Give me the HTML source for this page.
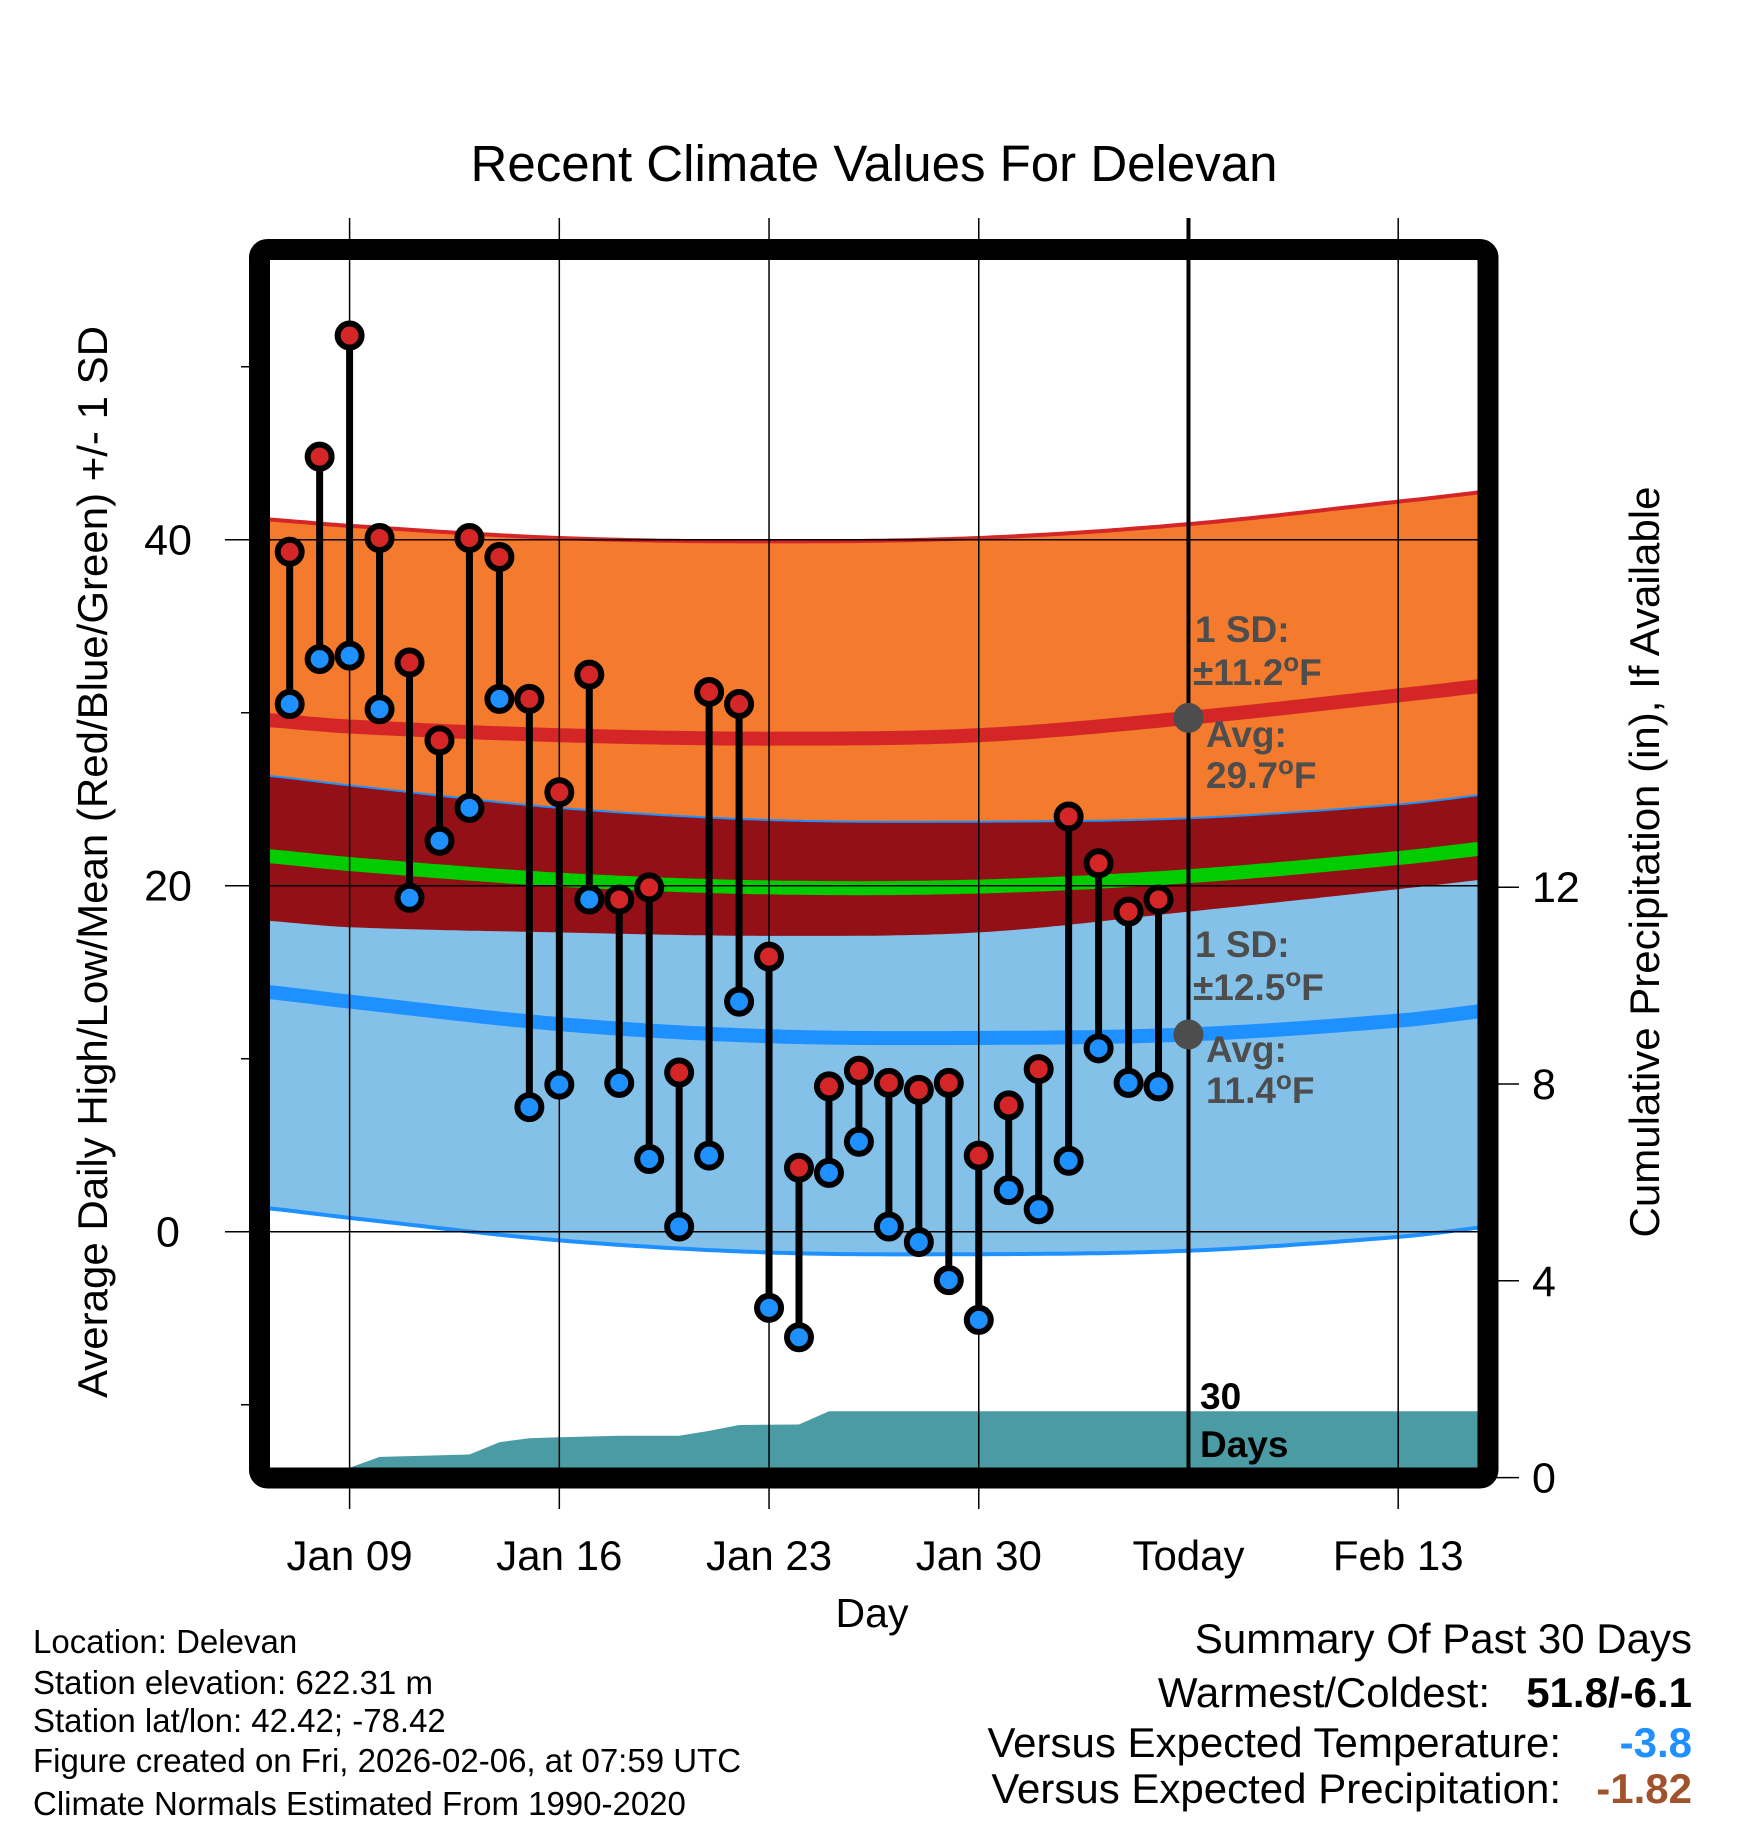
<!DOCTYPE html>
<html><head><meta charset="utf-8">
<style>
html,body{margin:0;padding:0;background:#fff;}
svg{display:block;font-family:"Liberation Sans",sans-serif;}
</style></head>
<body>
<svg id="chart" width="1748" height="1828" viewBox="0 0 1748 1828" xmlns="http://www.w3.org/2000/svg">
<defs><clipPath id="plotclip"><rect x="270" y="260" width="1208" height="1208"/></clipPath></defs>
<g id="bands" clip-path="url(#plotclip)"></g>
<g id="grid"></g>
<g id="marks"></g>
<rect x="259.5" y="249.5" width="1228.5" height="1228.5" rx="8" fill="none" stroke="#000" stroke-width="21"/>
<g id="labels"></g>
<text x="874" y="181" font-size="51" text-anchor="middle">Recent Climate Values For Delevan</text>
<text transform="translate(107,862) rotate(-90)" font-size="42" text-anchor="middle">Average Daily High/Low/Mean (Red/Blue/Green) +/- 1 SD</text>
<text transform="translate(1659,862) rotate(-90)" font-size="42" text-anchor="middle">Cumulative Precipitation (in), If Available</text>
<text x="872" y="1627" font-size="41" text-anchor="middle">Day</text>
<g font-size="37" font-weight="bold" fill="#4d4d4d">
<text x="1195" y="642">1 SD:</text>
<text x="1193" y="685">±11.2<tspan font-size="26" dy="-14">o</tspan><tspan dy="14">F</tspan></text>
<text x="1206" y="747">Avg:</text>
<text x="1206" y="788">29.7<tspan font-size="26" dy="-14">o</tspan><tspan dy="14">F</tspan></text>
</g>
<g font-size="37" font-weight="bold" fill="#4d4d4d">
<text x="1195" y="957">1 SD:</text>
<text x="1193" y="1000">±12.5<tspan font-size="26" dy="-14">o</tspan><tspan dy="14">F</tspan></text>
<text x="1206" y="1062">Avg:</text>
<text x="1206" y="1103">11.4<tspan font-size="26" dy="-14">o</tspan><tspan dy="14">F</tspan></text>
</g>
<g font-size="37" font-weight="bold" fill="#000">
<text x="1200" y="1409">30</text>
<text x="1200" y="1457">Days</text>
</g>
<g font-size="33" fill="#000">
<text x="33" y="1653">Location: Delevan</text>
<text x="33" y="1694">Station elevation: 622.31 m</text>
<text x="33" y="1732">Station lat/lon: 42.42; -78.42</text>
<text x="33" y="1772">Figure created on Fri, 2026-02-06, at 07:59 UTC</text>
<text x="33" y="1815">Climate Normals Estimated From 1990-2020</text>
</g>
<g font-size="42" fill="#000">
<text x="1692" y="1653" text-anchor="end">Summary Of Past 30 Days</text>
<text x="1490" y="1707" text-anchor="end">Warmest/Coldest:</text>
<text x="1692" y="1707" text-anchor="end" font-weight="bold">51.8/-6.1</text>
<text x="1561" y="1757" text-anchor="end">Versus Expected Temperature:</text>
<text x="1692" y="1757" text-anchor="end" font-weight="bold" fill="#1e90ff">-3.8</text>
<text x="1561" y="1803" text-anchor="end">Versus Expected Precipitation:</text>
<text x="1692" y="1803" text-anchor="end" font-weight="bold" fill="#a0522d">-1.82</text>
</g>
</svg>
<script>
// data (day-of-January numbering; Feb 1 = 32)
const days = [7,8,9,10,11,12,13,14,15,16,17,18,19,20,21,22,23,24,25,26,27,28,29,30,31,32,33,34,35,36];
const highs = [39.3,44.8,51.8,40.1,32.9,28.4,40.1,39.0,30.8,25.4,32.2,19.2,19.9,9.2,31.2,30.5,15.9,3.7,8.4,9.3,8.6,8.2,8.6,4.4,7.3,9.4,24.0,21.3,18.5,19.2];
const lows = [30.5,33.1,33.3,30.2,19.3,22.6,24.5,30.8,7.2,8.5,19.2,8.6,4.2,0.3,4.4,13.3,-4.4,-6.1,3.4,5.2,0.3,-0.6,-2.8,-5.1,2.4,1.3,4.1,10.6,8.6,8.4];
const precipDays = [7,8,8.6,9,10,13,14,15,16,18,20,21,22,24,25,26,47];
const precipCum = [0,0,0,0.2,0.42,0.47,0.72,0.8,0.82,0.85,0.85,0.95,1.07,1.08,1.35,1.35,1.35];
const normDays = [2,6,9,16,23,30,37,44,47,51];
const hiAvg = [29.9,29.6,29.2,28.7,28.5,28.7,29.7,31.0,31.6,32.5];
const hiSD = [11.6,11.6,11.6,11.4,11.4,11.4,11.2,11.2,11.2,11.2];
const loAvg = [14.4,13.9,13.3,12.0,11.3,11.2,11.4,12.2,12.8,13.6];
const loSD = [12.5,12.5,12.5,12.5,12.5,12.5,12.5,12.5,12.5,12.5];
const xTickDays = [9,16,23,30,37,44];
const xTickLabels = ["Jan 09","Jan 16","Jan 23","Jan 30","Today","Feb 13"];
const yTicks = [0,20,40];
const yMinor = [-10,10,30,50];
const pTicks = [0,4,8,12];
const todayDay = 37;

const NS="http://www.w3.org/2000/svg";
const X = d => 349.6 + (d-9)*29.96;
const Y = t => 1231.7 - 17.3*t;
const P = p => 1477.6 - 49.2*p;
function mk(parent, tag, attrs){const e=document.createElementNS(NS,tag);for(const k in attrs)e.setAttribute(k,attrs[k]);parent.appendChild(e);return e;}
function interp(xs, ys, x){ if(x<=xs[0])return ys[0]; for(let i=1;i<xs.length;i++){ if(x<=xs[i]){const f=(x-xs[i-1])/(xs[i]-xs[i-1]); return ys[i-1]+f*(ys[i]-ys[i-1]);}} return ys[ys.length-1]; }
function smooth(xs, ys, x){
  if(x<=xs[0])return ys[0]; if(x>=xs[xs.length-1])return ys[ys.length-1];
  let i=1; while(x>xs[i]) i++;
  const i0=i-1,i1=i, x0=xs[i0],x1=xs[i1], h=x1-x0, t=(x-x0)/h;
  const slope=(k)=>{ if(k<=0) return (ys[1]-ys[0])/(xs[1]-xs[0]); if(k>=xs.length-1) return (ys[k]-ys[k-1])/(xs[k]-xs[k-1]); return (ys[k+1]-ys[k-1])/(xs[k+1]-xs[k-1]); };
  const m0=slope(i0)*h, m1=slope(i1)*h, t2=t*t,t3=t2*t;
  return (2*t3-3*t2+1)*ys[i0]+(t3-2*t2+t)*m0+(-2*t3+3*t2)*ys[i1]+(t3-t2)*m1;
}
const bands=document.getElementById('bands'), grid=document.getElementById('grid'), marks=document.getElementById('marks'), labels=document.getElementById('labels');
const samp=[]; for(let d=6;d<=47.001;d+=0.25) samp.push(d);
const f = (arr, sd, sign) => d => smooth(normDays,arr,d) + sign*(sd?smooth(normDays,sd,d):0);
function bandPath(top, bot){ let s=samp.map((d,i)=>(i?'L':'M')+X(d).toFixed(1)+','+Y(top(d)).toFixed(1)).join(' '); s+=' '+samp.slice().reverse().map(d=>'L'+X(d).toFixed(1)+','+Y(bot(d)).toFixed(1)).join(' '); return s+'Z'; }
function linePath(fn){ return samp.map((d,i)=>(i?'L':'M')+X(d).toFixed(1)+','+Y(fn(d)).toFixed(1)).join(' '); }
let e;
e=mk(bands,'path',{d:bandPath(f(hiAvg,hiSD,1),f(hiAvg,hiSD,-1)),fill:'#f47a2e'});


e=mk(bands,'path',{d:bandPath(f(loAvg,loSD,1),f(loAvg,loSD,-1)),fill:'#84c1e8'});


e=mk(bands,'path',{d:bandPath(f(loAvg,loSD,1),f(hiAvg,hiSD,-1)),fill:'#921016'});


e=mk(bands,'path',{d:linePath(f(hiAvg,hiSD,1)),fill:'none',stroke:'#d42626','stroke-width':4});


e=mk(bands,'path',{d:linePath(f(loAvg,loSD,1)),fill:'none',stroke:'#1e90ff','stroke-width':2});


e=mk(bands,'path',{d:linePath(f(loAvg,loSD,-1)),fill:'none',stroke:'#1e90ff','stroke-width':4});


e=mk(bands,'path',{d:linePath(f(hiAvg,null,0)),fill:'none',stroke:'#d42626','stroke-width':14});


e=mk(bands,'path',{d:linePath(f(loAvg,null,0)),fill:'none',stroke:'#1e90ff','stroke-width':14});


const meanFn = d => (smooth(normDays,hiAvg,d)+smooth(normDays,loAvg,d))/2;
e=mk(bands,'path',{d:linePath(meanFn),fill:'none',stroke:'#00cc00','stroke-width':14});


// precip area
let pd='M'+X(precipDays[0])+','+P(0);
precipDays.forEach((d,i)=>{pd+=' L'+X(d).toFixed(1)+','+P(precipCum[i]).toFixed(1);});
pd+=' L'+X(precipDays[precipDays.length-1])+','+P(0)+'Z';
e=mk(bands,'path',{d:pd,fill:'#4a9ba3'});


// grid
xTickDays.forEach((d,i)=>{
  if(d===todayDay){
    e=mk(grid,'line',{x1:X(d),x2:X(d),y1:218,y2:1468,stroke:'#000','stroke-width':4});
    
    
  } else {
    e=mk(grid,'line',{x1:X(d),x2:X(d),y1:218,y2:1509,stroke:'#000','stroke-width':1.5});
    
    
  }
  e=mk(labels,'text',{x:X(d),y:1570,'font-size':42,'text-anchor':'middle'});
  e.textContent=xTickLabels[i];
  
  
});
yTicks.forEach(t=>{
  e=mk(grid,'line',{x1:225,x2:1478,y1:Y(t),y2:Y(t),stroke:'#000','stroke-width':1.5});
  
  
  e=mk(labels,'text',{x:168,y:Y(t)+15,'font-size':43,'text-anchor':'middle'});
  e.textContent=t;
  
  
});
yMinor.forEach(t=>{
  e=mk(grid,'line',{x1:241,x2:260,y1:Y(t),y2:Y(t),stroke:'#000','stroke-width':1.5});
  
  
});
pTicks.forEach(p=>{
  e=mk(grid,'line',{x1:1488,x2:1519,y1:P(p),y2:P(p),stroke:'#000','stroke-width':1.5});
  
  
  e=mk(labels,'text',{x:1532,y:P(p)+15,'font-size':43,'text-anchor':'start'});
  e.textContent=p;
  
  
});
// today avg dots
e=mk(marks,'circle',{cx:X(todayDay),cy:Y(smooth(normDays,hiAvg,todayDay)),r:15,fill:'#4d4d4d'});


e=mk(marks,'circle',{cx:X(todayDay),cy:Y(smooth(normDays,loAvg,todayDay)),r:15,fill:'#4d4d4d'});


// daily stems & points
days.forEach((d,i)=>{
  e=mk(marks,'line',{x1:X(d),x2:X(d),y1:Y(highs[i]),y2:Y(lows[i]),stroke:'#000','stroke-width':7});
  
  
  e=mk(marks,'circle',{cx:X(d),cy:Y(lows[i]),r:12,fill:'#1e90ff',stroke:'#000','stroke-width':6});
  
  
  e=mk(marks,'circle',{cx:X(d),cy:Y(highs[i]),r:12,fill:'#d42626',stroke:'#000','stroke-width':6});
  
  
});
</script>
</body></html>
